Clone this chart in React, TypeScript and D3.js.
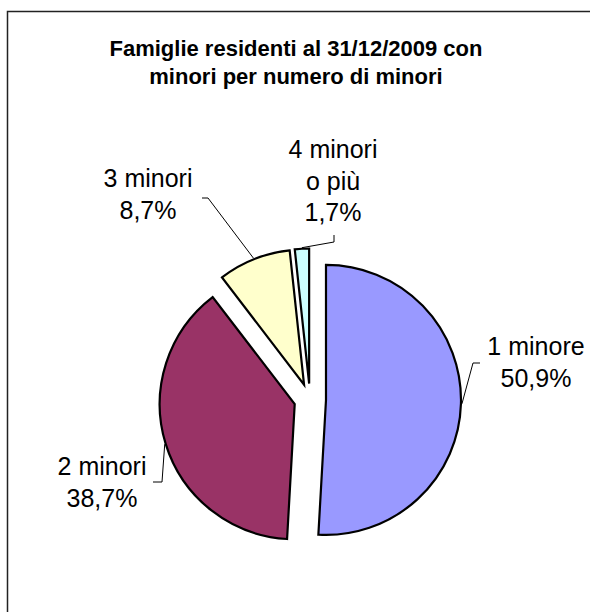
import React from "react";
import * as d3 from "d3";

const categories = ["1 minore", "2 minori", "3 minori", "4 minori o più"];
const values = [50.9, 38.7, 8.7, 1.7];
const colors = ["#9999FF", "#993366", "#FFFFCC", "#CCFFFF"];
const labelLines = [["1 minore"], ["2 minori"], ["3 minori"], ["4 minori", "o più"]];
const titleLines = ["Famiglie residenti al 31/12/2009 con", "minori per numero di minori"];

// layout (positions, not data)
const W = 590, H = 612;
const CX = 310, CY = 399.5, R = 135, EXPLODE = 16;
const labelPos = [
  { x: 536, y: 355 },
  { x: 102, y: 475 },
  { x: 148, y: 187 },
  { x: 333, y: 158 },
];
const leaderElbow = [
  [{ x: 473, y: 363 }, { x: 480, y: 363 }],
  [{ x: 162, y: 482 }, { x: 153, y: 482 }],
  [{ x: 208, y: 198 }, { x: 202, y: 198 }],
  [{ x: 334, y: 242 }, { x: 334, y: 235 }],
];
const LINE_H = 31.5;

const fmt = (v: number) => v.toFixed(1).replace(".", ",") + "%";

export default function App() {
  const pie = d3.pie<number>().sort(null).value((d) => d).startAngle(0).endAngle(2 * Math.PI);
  const arcs = pie(values);
  const arc = d3.arc<d3.PieArcDatum<number>>().innerRadius(0).outerRadius(R);

  return (
    <svg width={W} height={H} style={{ position: "absolute", left: 0, top: 0 }}
      fontFamily="'Liberation Sans', Arial, sans-serif">
      <rect x={7.5} y={11.5} width={700} height={700} fill="#fff" stroke="#222" strokeWidth={1.5} />
      {titleLines.map((t, i) => (
        <text key={i} x={296} y={56 + i * 28} textAnchor="middle" fontWeight="bold" fontSize={22} fill="#000">{t}</text>
      ))}
      {arcs.map((a, i) => {
        const mid = (a.startAngle + a.endAngle) / 2;
        const ox = CX + EXPLODE * Math.sin(mid);
        const oy = CY - EXPLODE * Math.cos(mid);
        return (
          <g key={categories[i]} transform={`translate(${ox},${oy})`}>
            <path d={arc(a) || ""} fill={colors[i]} stroke="#000" strokeWidth={2.2} strokeLinejoin="miter" />
          </g>
        );
      })}
      {arcs.map((a, i) => {
        const mid = (a.startAngle + a.endAngle) / 2;
        const ox = CX + EXPLODE * Math.sin(mid);
        const oy = CY - EXPLODE * Math.cos(mid);
        const sx = ox + (R + 1) * Math.sin(mid);
        const sy = oy - (R + 1) * Math.cos(mid);
        const pts = [[sx, sy], ...leaderElbow[i].map((p) => [p.x, p.y])];
        return (
          <polyline key={"l" + i} points={pts.map((p) => p.join(",")).join(" ")} fill="none" stroke="#000" strokeWidth={1} />
        );
      })}
      {arcs.map((a, i) => {
        const lines = [...labelLines[i], fmt(values[i])];
        return (
          <text key={"t" + i} textAnchor="middle" fontSize={25} fill="#000">
            {lines.map((ln, j) => (
              <tspan key={j} x={labelPos[i].x} y={labelPos[i].y + j * LINE_H}>{ln}</tspan>
            ))}
          </text>
        );
      })}
    </svg>
  );
}
